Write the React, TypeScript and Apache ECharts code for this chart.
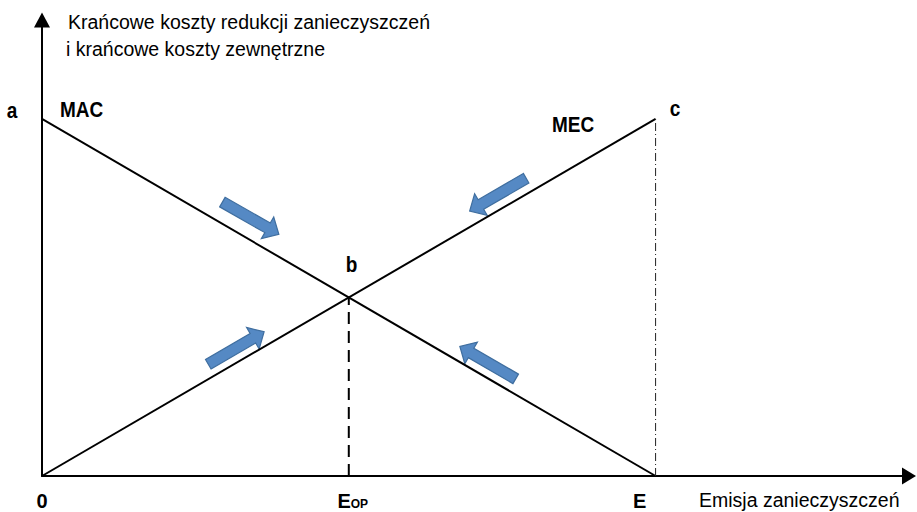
import React, { useEffect, useRef } from 'react';
import * as echarts from 'echarts';

// Curves (x: emission units, y: cost units)
const macLine: number[][] = [[0, 10], [10, 0]];
const mecLine: number[][] = [[0, 0], [10, 10]];
const eopGuide: number[][] = [[5, 0], [5, 5]];
const eGuide: number[][] = [[10, 0], [10, 10]];

// Direction arrows: [tailX, tailY, tipX, tipY]
const moveArrows: number[][] = [
  [2.94, 7.67, 3.86, 6.77],
  [2.71, 3.13, 3.62, 4.04],
  [7.89, 8.34, 6.97, 7.42],
  [7.72, 2.72, 6.81, 3.63],
];

// X tick labels
const xTickValues = [0, 5, 10];
const xTickLabels = ['{n|0}', '{e|E}{op|OP}', '{el|E}'];

const xMax = 14.13;
const yMax = 12.77;

const BOLD = "bold 19px 'Liberation Sans', Arial, sans-serif";
const REG = "19.5px 'Liberation Sans', Arial, sans-serif";
const FAM = "'Liberation Sans', Arial, sans-serif";

function txt(text: string, x: number, y: number, font: string, align = 'left', scaleY = 1) {
  return {
    type: 'text',
    x,
    y,
    scaleY,
    silent: true,
    style: {
      text,
      font,
      fill: '#000',
      textAlign: align,
      align,
      textVerticalAlign: 'middle',
      verticalAlign: 'middle',
    },
  };
}

export default function App() {
  const ref = useRef<HTMLDivElement>(null);
  useEffect(() => {
    if (!ref.current) return;
    const chart = echarts.init(ref.current, undefined, { renderer: 'svg' });
    const option: any = {
      animation: false,
      backgroundColor: '#fff',
      grid: { left: 42, right: 8, top: 20, bottom: 36, containLabel: false, outerBoundsMode: 'none' },
      xAxis: {
        type: 'value',
        min: 0,
        max: xMax,
        splitLine: { show: false },
        axisTick: { show: false },
        axisLine: {
          show: true,
          onZero: false,
          symbol: ['none', 'triangle'],
          symbolSize: [17, 14],
          lineStyle: { color: '#000', width: 2 },
        },
        axisLabel: {
          show: true,
          customValues: xTickValues,
          showMinLabel: true,
          showMaxLabel: true,
          hideOverlap: false,
          margin: 15,
          formatter: (v: number) => {
            const i = xTickValues.indexOf(v);
            return i >= 0 ? xTickLabels[i] : '';
          },
          rich: {
            n: { fontFamily: FAM, fontWeight: 'bold', fontSize: 20, color: '#000', lineHeight: 20 },
            e: { fontFamily: FAM, fontWeight: 'bold', fontSize: 20, color: '#000', lineHeight: 20, padding: [0, 0, 0, 8], verticalAlign: 'bottom' },
            op: { fontFamily: FAM, fontWeight: 'bold', fontSize: 12, color: '#000', lineHeight: 12, verticalAlign: 'bottom', padding: [0, 0, 1, 0] },
            el: { fontFamily: FAM, fontWeight: 'bold', fontSize: 20, color: '#000', lineHeight: 20, padding: [0, 32, 0, 0] },
          },
        },
      },
      yAxis: {
        type: 'value',
        min: 0,
        max: yMax,
        splitLine: { show: false },
        axisTick: { show: false },
        axisLabel: { show: false },
        axisLine: {
          show: true,
          onZero: false,
          symbol: ['none', 'triangle'],
          symbolSize: [16, 15],
          lineStyle: { color: '#000', width: 2 },
        },
      },
      series: [
        {
          type: 'line', name: 'MAC', data: macLine, symbol: 'none', silent: true,
          lineStyle: { color: '#000', width: 2 },
        },
        {
          type: 'line', name: 'MEC', data: mecLine, symbol: 'none', silent: true,
          lineStyle: { color: '#000', width: 2 },
        },
        {
          type: 'line', data: eopGuide, symbol: 'none', silent: true,
          lineStyle: { color: '#000', width: 2, type: [12, 7] },
        },
        {
          type: 'line', data: eGuide, symbol: 'none', silent: true,
          lineStyle: { color: '#222', width: 1, type: [8, 3, 1, 3] },
        },
        {
          type: 'custom',
          silent: true,
          data: moveArrows,
          encode: { x: [0, 2], y: [1, 3] },
          renderItem: (params: any, api: any) => {
            const p1 = api.coord([api.value(0), api.value(1)]);
            const p2 = api.coord([api.value(2), api.value(3)]);
            const dx = p2[0] - p1[0];
            const dy = p2[1] - p1[1];
            const len = Math.hypot(dx, dy);
            const ux = dx / len, uy = dy / len;
            const nx = -uy, ny = ux;
            const bw = 5.5, hw = 12.5, hl = 13;
            const bx = p2[0] - ux * hl, by = p2[1] - uy * hl;
            const pts = [
              [p1[0] + nx * bw, p1[1] + ny * bw],
              [bx + nx * bw, by + ny * bw],
              [bx + nx * hw, by + ny * hw],
              [p2[0], p2[1]],
              [bx - nx * hw, by - ny * hw],
              [bx - nx * bw, by - ny * bw],
              [p1[0] - nx * bw, p1[1] - ny * bw],
            ];
            return {
              type: 'polygon',
              shape: { points: pts },
              style: { fill: '#5589C4', stroke: '#3F6E9F', lineWidth: 1.2 },
            };
          },
        },
      ],
      graphic: [
        txt('Krańcowe koszty redukcji zanieczyszczeń', 68, 22, REG),
        txt('i krańcowe koszty zewnętrzne', 66, 49, REG),
        txt('a', 12, 110, BOLD, 'center', 1.2),
        txt('MAC', 60, 109, BOLD, 'left', 1.2),
        txt('MEC', 552, 124, BOLD, 'left', 1.2),
        txt('c', 675, 108, BOLD, 'center', 1.2),
        txt('b', 351.5, 264, BOLD, 'center', 1.2),
        txt('Emisja zanieczyszczeń', 699, 500, REG),
      ],
    };
    chart.setOption(option);
    return () => chart.dispose();
  }, []);
  return (
    <div
      ref={ref}
      style={{ position: 'fixed', left: 0, top: 0, width: 917, height: 512, background: '#fff' }}
    />
  );
}
